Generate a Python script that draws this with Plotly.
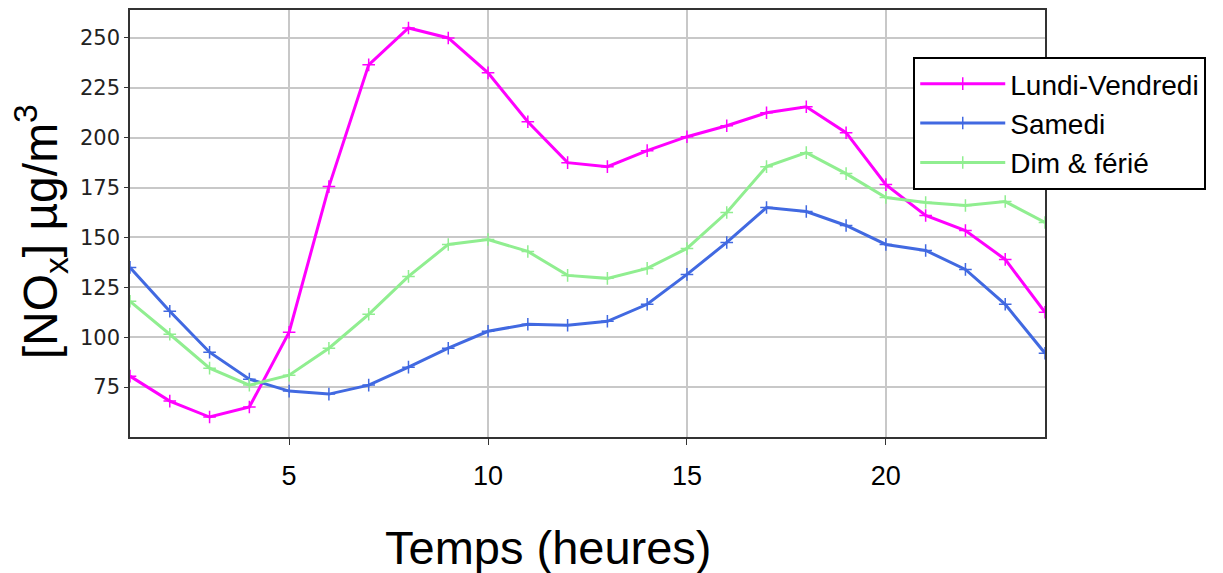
import plotly.graph_objects as go

hours = list(range(1, 25))
lundi_vendredi = [80.5, 68, 60, 65, 102.5, 175.5, 236.5, 255, 250, 232.5, 208, 187.5,
                  185.5, 193.5, 200.5, 206, 212.5, 215.5, 202.5, 176.5, 161, 153.5, 139, 112.5]
samedi = [135, 113, 92.5, 79, 73, 71.5, 76, 85, 94.5, 103, 106.5, 106,
          108, 116.5, 131.5, 147.5, 165, 163, 156, 146.5, 143.5, 134, 116.5, 92]
dim_ferie = [118, 101.5, 84.5, 76, 81, 94.5, 111.5, 130.5, 146.5, 149, 143, 131,
             129.5, 134.5, 144.5, 162.5, 185.5, 192.5, 182, 170, 167.5, 166, 168, 157.5]
series_names = ["Lundi-Vendredi", "Samedi", "Dim & férié"]
colors = ["#ff00ff", "#4169e1", "#90ee90"]
x_ticks = [5, 10, 15, 20]
y_ticks = [75, 100, 125, 150, 175, 200, 225, 250]

fig = go.Figure()
for name, vals, c in zip(series_names, [lundi_vendredi, samedi, dim_ferie], colors):
    fig.add_trace(go.Scatter(
        x=hours, y=vals, name=name, mode="lines+markers",
        line=dict(color=c, width=3),
        marker=dict(symbol="cross-thin", size=9, line=dict(color=c, width=1.5)),
    ))

# page body has an 8px margin; offsets compensate so plot area spans x 130-1045, y 10-437
fig.update_layout(
    width=1223, height=573,
    margin=dict(l=122, r=186, t=2, b=144),
    plot_bgcolor="white", paper_bgcolor="white",
    showlegend=True,
    legend=dict(
        x=0.856, y=0.89, xanchor="left", yanchor="top",
        bgcolor="white", bordercolor="black", borderwidth=2,
        font=dict(family="Liberation Sans, Arial", size=28, color="black"),
        itemwidth=85, tracegroupgap=0,
    ),
    xaxis=dict(
        range=[1, 24], tickvals=x_ticks, ticks="outside", ticklen=6, tickcolor="#333",
        showgrid=True, gridcolor="#c8c8c8", gridwidth=1.5,
        showline=True, linecolor="#333", linewidth=1.5, mirror=True,
        tickfont=dict(family="Liberation Sans, Arial", size=27, color="black"),
        ticklabelstandoff=8,
        automargin=False, zeroline=False,
    ),
    yaxis=dict(
        range=[50, 264], tickvals=y_ticks, ticks="outside", ticklen=4, tickcolor="#333",
        showgrid=True, gridcolor="#c8c8c8", gridwidth=1.5,
        showline=True, linecolor="#333", linewidth=1.5, mirror=True,
        tickfont=dict(family="DejaVu Sans", size=21, color="#222"),
        automargin=False, zeroline=False,
    ),
    annotations=[
        dict(text="Temps (heures)", xref="paper", yref="paper", x=0.457, y=-0.258,
             xanchor="center", yanchor="middle", showarrow=False,
             font=dict(family="Liberation Sans, Arial", size=47, color="black")),
        dict(text="[NO<sub>x</sub>] µg/m<sup>3</sup>", xref="paper", yref="paper",
             x=-0.098, y=0.48, xanchor="center", yanchor="middle", textangle=-90,
             showarrow=False,
             font=dict(family="Liberation Sans, Arial", size=48, color="black")),
    ],
)

fig.write_html("out.html")
